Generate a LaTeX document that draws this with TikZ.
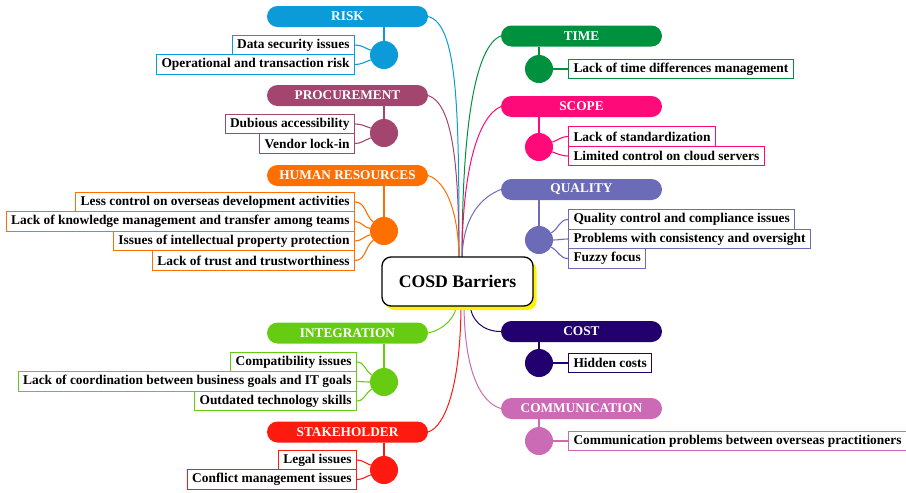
\documentclass[tikz,border=0pt]{standalone}
\usepackage{fontspec}
\setmainfont{Liberation Serif}
\definecolor{cRisk}{HTML}{0A9BD8}
\definecolor{cProc}{HTML}{A3456E}
\definecolor{cHR}{HTML}{FF6F00}
\definecolor{cTime}{HTML}{00913F}
\definecolor{cScope}{HTML}{FF0A78}
\definecolor{cQual}{HTML}{6B6BB8}
\definecolor{cCost}{HTML}{22006E}
\definecolor{cComm}{HTML}{CC6BB5}
\definecolor{cInt}{HTML}{66CC11}
\definecolor{cStk}{HTML}{FF1A10}
\begin{document}
\begin{tikzpicture}[x=1pt,y=-1pt,
  pill/.style={rounded corners=10.5pt, fill=#1, minimum width=161pt, minimum height=21pt, text=white, inner sep=0pt, font=\bfseries\fontsize{13.3}{13.3}\selectfont},
  leaf/.style={draw=#1, fill=white, line width=1pt, inner xsep=5pt, inner ysep=0pt, minimum height=19.5pt, font=\bfseries\fontsize{13.4}{14}\selectfont},
  hub/.style={circle, fill=#1, minimum size=28pt, inner sep=0pt},
  branch/.style={draw=#1, line width=1pt},
  twig/.style={draw=#1, line width=1.1pt}]
\useasboundingbox (0,0) rectangle (906,493);

% pills
\node[pill=cRisk] (risk) at (347.5,16.5) {RISK};
\node[pill=cProc] (proc) at (347.5,95.5) {PROCUREMENT};
\node[pill=cHR] (hr) at (347.5,175.5) {HUMAN RESOURCES};
\node[pill=cInt] (int) at (347.5,333) {INTEGRATION};
\node[pill=cStk] (stk) at (347.5,432) {STAKEHOLDER};
\node[pill=cTime] (time) at (581.5,36) {TIME};
\node[pill=cScope] (scope) at (581.5,106.5) {SCOPE};
\node[pill=cQual] (qual) at (581.5,189.5) {QUALITY};
\node[pill=cCost] (cost) at (581.5,331.5) {COST};
\node[pill=cComm] (comm) at (581.5,408.5) {COMMUNICATION};

% convergence points
\coordinate (ct1) at (459,262);
\coordinate (ct2) at (462,262);
\coordinate (cb1) at (457,302);
\coordinate (cb2) at (461,302);
\coordinate (cb3) at (464,302);
\coordinate (cb4) at (470,302);

% main branches
\draw[branch=cRisk] (risk.east) .. controls +(30,8) and +(0,-150) .. (ct1);
\draw[branch=cProc] (proc.east) .. controls +(24,8) and +(0,-100) .. (ct1);
\draw[branch=cHR] (hr.east) .. controls +(18,6) and +(0,-50) .. (ct1);
\draw[branch=cTime] (time.west) .. controls +(-25,10) and +(0,-140) .. (ct2);
\draw[branch=cScope] (scope.west) .. controls +(-22,10) and +(0,-95) .. (ct2);
\draw[branch=cQual] (qual.west) .. controls +(-20,8) and +(0,-45) .. (ct2);
\draw[branch=cInt] (int.east) .. controls +(15,-3) and +(0,15) .. (cb1);
\draw[branch=cStk] (stk.east) .. controls +(18,-6) and +(0,80) .. (cb2);
\draw[branch=cComm] (comm.west) .. controls +(-20,-6) and +(0,70) .. (cb3);
\draw[branch=cCost] (cost.west) .. controls +(-18,0) and +(0,18) .. (cb4);

% hubs
\node[hub=cRisk] (hrisk) at (384,55) {};
\node[hub=cProc] (hproc) at (384,133) {};
\node[hub=cHR] (hhr) at (384,231) {};
\node[hub=cInt] (hint) at (384,382) {};
\node[hub=cStk] (hstk) at (384,470) {};
\node[hub=cTime] (htime) at (539,69) {};
\node[hub=cScope] (hscope) at (539,147) {};
\node[hub=cQual] (hqual) at (539,240) {};
\node[hub=cCost] (hcost) at (539,363) {};
\node[hub=cComm] (hcomm) at (539,441) {};

\foreach \p/\h/\c in {risk/hrisk/cRisk, proc/hproc/cProc, hr/hhr/cHR, int/hint/cInt, stk/hstk/cStk, time/htime/cTime, scope/hscope/cScope, qual/hqual/cQual, cost/hcost/cCost, comm/hcomm/cComm}
  \draw[twig=\c] (\p.south -| \h) -- (\h);

% left leaves
\node[leaf=cRisk, anchor=east] (r1) at (355,45) {Data security issues};
\node[leaf=cRisk, anchor=east] (r2) at (355,64.5) {Operational and transaction risk};
\node[leaf=cProc, anchor=east] (p1) at (355,124) {Dubious accessibility};
\node[leaf=cProc, anchor=east] (p2) at (355,143.5) {Vendor lock-in};
\node[leaf=cHR, anchor=east] (h1) at (355,202) {Less control on overseas development activities};
\node[leaf=cHR, anchor=east] (h2) at (355,221.5) {Lack of knowledge management and transfer among teams};
\node[leaf=cHR, anchor=east] (h3) at (355,241) {Issues of intellectual property protection};
\node[leaf=cHR, anchor=east] (h4) at (355,260.5) {Lack of trust and trustworthiness};
\node[leaf=cInt, anchor=east] (i1) at (357,362) {Compatibility issues};
\node[leaf=cInt, anchor=east] (i2) at (357,381.5) {Lack of coordination between business goals and IT goals};
\node[leaf=cInt, anchor=east] (i3) at (357,401) {Outdated technology skills};
\node[leaf=cStk, anchor=east] (s1) at (357,460) {Legal issues};
\node[leaf=cStk, anchor=east] (s2) at (357,479.5) {Conflict management issues};

% right leaves
\node[leaf=cTime, anchor=west] (t1) at (568,69) {Lack of time differences management};
\node[leaf=cScope, anchor=west] (sc1) at (568,136.5) {Lack of standardization};
\node[leaf=cScope, anchor=west] (sc2) at (568,156) {Limited control on cloud servers};
\node[leaf=cQual, anchor=west] (q1) at (568,219.5) {Quality control and compliance issues};
\node[leaf=cQual, anchor=west] (q2) at (568,239) {Problems with consistency and oversight};
\node[leaf=cQual, anchor=west] (q3) at (568,258.5) {Fuzzy focus};
\node[leaf=cCost, anchor=west] (co1) at (568,363) {Hidden costs};
\node[leaf=cComm, anchor=west] (cm1) at (568,441) {Communication problems between overseas practitioners};

% leaf connectors (left)
\foreach \l/\h/\a/\c in {r1/hrisk/160/cRisk, r2/hrisk/200/cRisk, p1/hproc/160/cProc, p2/hproc/200/cProc,
  h1/hhr/140/cHR, h2/hhr/170/cHR, h3/hhr/195/cHR, h4/hhr/220/cHR,
  i1/hint/150/cInt, i2/hint/180/cInt, i3/hint/210/cInt, s1/hstk/160/cStk, s2/hstk/200/cStk}
  \draw[twig=\c] (\l.east) to[out=0,in=\a] (\h.\a);
% leaf connectors (right)
\foreach \l/\h/\a/\c in {t1/htime/0/cTime, sc1/hscope/20/cScope, sc2/hscope/-20/cScope,
  q1/hqual/30/cQual, q2/hqual/0/cQual, q3/hqual/-30/cQual, co1/hcost/0/cCost, cm1/hcomm/0/cComm}
  \draw[twig=\c] (\h.\a) to[out=\a,in=180] (\l.west);

% center
\node[fill=yellow, rounded corners=9pt, minimum width=151pt, minimum height=49pt] (cshadow) at (461,285.5) {};
\node[draw=black, fill=white, line width=1.3pt, rounded corners=9pt, minimum width=151pt, minimum height=49pt, font=\bfseries\fontsize{17.7}{17.7}\selectfont] (center) at (457.5,281.5) {COSD Barriers};
\end{tikzpicture}
\end{document}
